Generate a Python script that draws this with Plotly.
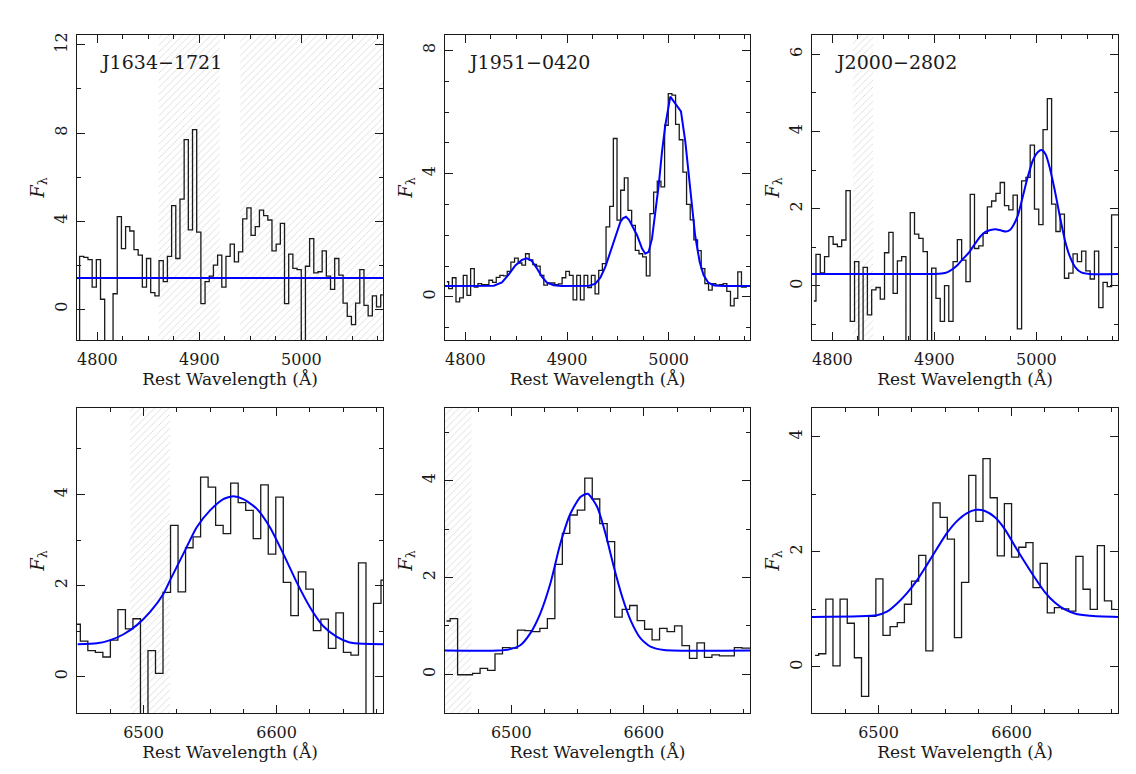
import plotly.graph_objects as go

# ---------------- Panel 1 : J1634-1721  ([OIII] region) ----------------
p1_wave = [4780.5, 4784.6, 4788.7, 4792.8, 4796.9, 4801.0, 4805.1, 4809.2, 4813.3, 4817.4,
           4821.5, 4825.6, 4829.7, 4833.8, 4837.9, 4842.0, 4846.1, 4850.2, 4854.3, 4858.4,
           4862.5, 4866.6, 4870.7, 4874.8, 4878.9, 4883.0, 4887.1, 4891.2, 4895.3, 4899.4,
           4903.5, 4907.6, 4911.7, 4915.8, 4919.9, 4924.0, 4928.1, 4932.2, 4936.3, 4940.4,
           4944.5, 4948.6, 4952.7, 4956.8, 4960.9, 4965.0, 4969.1, 4973.2, 4977.3, 4981.4,
           4985.5, 4989.6, 4993.7, 4997.8, 5001.9, 5006.0, 5010.1, 5014.2, 5018.3, 5022.4,
           5026.5, 5030.6, 5034.7, 5038.8, 5042.9, 5047.0, 5051.1, 5055.2, 5059.3, 5063.4,
           5067.5, 5071.6, 5075.7, 5079.8]
p1_flux = [-2.5, 2.4, 2.35, 2.25, 1.0, 2.25, 0.45, -2.5, -2.5, 0.7,
           4.2, 2.75, 3.75, 3.55, 2.7, 2.45, 1.0, 2.3, 0.75, 0.6,
           2.2, 1.25, 2.4, 4.7, 2.3, 5.0, 7.7, 3.6, 8.15, 3.5,
           0.25, 1.25, 1.5, 2.0, 2.45, 1.0, 2.4, 2.95, 2.15, 2.6,
           4.1, 4.6, 3.35, 3.75, 4.5, 4.25, 4.05, 2.65, 2.95, 3.9,
           0.25, 2.5, 1.85, 1.8, -2.5, 1.95, 3.2, 1.65, 1.7, 2.65,
           1.5, 0.9, 2.3, 1.55, 0.27, -0.33, -0.7, 0.27, 1.8, 0.17,
           -0.3, 0.6, 0.1, 0.65]
p1_fit_wave = [4780, 5080]
p1_fit_flux = [1.41, 1.41]
p1_masks = [(4860, 4920), (4940, 5080)]

# ---------------- Panel 2 : J1951-0420 ----------------
p2_wave = [4781.8, 4785.4, 4789.0, 4792.6, 4796.2, 4799.8, 4803.4, 4807.0, 4810.6, 4814.2,
           4817.8, 4821.4, 4825.0, 4828.6, 4832.2, 4835.8, 4839.4, 4843.0, 4846.6, 4850.2,
           4853.8, 4857.4, 4861.0, 4864.6, 4868.2, 4871.8, 4875.4, 4879.0, 4882.6, 4886.2,
           4889.8, 4893.4, 4897.0, 4900.6, 4904.2, 4907.8, 4911.4, 4915.0, 4918.6, 4922.2,
           4925.8, 4929.4, 4933.0, 4936.6, 4940.2, 4943.8, 4947.4, 4951.0, 4954.6, 4958.2,
           4961.8, 4965.4, 4969.0, 4972.6, 4976.2, 4979.8, 4983.4, 4987.0, 4990.6, 4994.2,
           4997.8, 5001.4, 5005.0, 5008.6, 5012.2, 5015.8, 5019.4, 5023.0, 5026.6, 5030.2,
           5033.8, 5037.4, 5041.0, 5044.6, 5048.2, 5051.8, 5055.4, 5059.0, 5062.6, 5066.2,
           5069.8, 5073.4, 5077.0]
p2_flux = [0.49, 0.27, 0.62, -0.16, -0.03, 0.7, 0.05, 0.92, 0.32, 0.43,
           0.4, 0.4, 0.54, 0.47, 0.63, 0.7, 0.68, 0.83, 1.13, 1.26,
           1.1, 1.03, 1.4, 1.2, 1.05, 1.0, 0.7, 0.38, 0.45, 0.45,
           0.4, 0.42, 0.62, 0.83, 0.7, -0.1, 0.7, -0.1, 0.7, 0.3,
           0.7, 0.1, 0.86, 1.08, 2.27, 2.94, 5.14, 2.49, 3.46, 3.86,
           2.81, 2.32, 1.51, 1.4, 1.3, 0.68, 2.7, 3.4, 3.76, 3.57,
           5.57, 6.6, 6.55, 5.6, 5.1, 4.05, 3.0, 2.5, 1.85, 1.5,
           0.92, 0.43, 0.22, 0.43, 0.38, 0.4, 0.43, 0.18, -0.29, -0.05,
           0.81, 0.32, 0.32]
p2_fit_wave = [4780, 4828, 4836, 4842.6, 4849.2, 4855.7, 4860.5, 4865, 4870.5, 4875.4,
               4880.3, 4887, 4895, 4922, 4927.9, 4932.8, 4937.7, 4942.6, 4947.5, 4952.5,
               4955, 4958, 4961, 4964, 4968.9, 4973.8, 4977, 4980.3, 4983.6, 4986.9,
               4990.2, 4993.4, 4996.7, 5001.6, 5012.1, 5016.4, 5019.7, 5023, 5026, 5030.5,
               5034.4, 5039, 5045, 5055, 5080]
p2_fit_flux = [0.35, 0.36, 0.47, 0.72, 1.02, 1.2, 1.25, 1.18, 0.92, 0.65,
               0.46, 0.38, 0.35, 0.36, 0.43, 0.62, 0.97, 1.46, 1.89, 2.43,
               2.55, 2.6, 2.5, 2.32, 2.0, 1.57, 1.4, 1.46, 1.89, 2.76,
               3.62, 4.7, 5.57, 6.5, 6.02, 5.03, 3.95, 2.86, 2.0, 1.13,
               0.7, 0.46, 0.37, 0.35, 0.35]
p2_masks = []

# ---------------- Panel 3 : J2000-2802 ----------------
p3_wave = [4781.8, 4786.0, 4790.2, 4794.4, 4798.6, 4802.8, 4807.0, 4811.2, 4815.4, 4819.6,
           4823.8, 4828.0, 4832.2, 4836.4, 4840.6, 4844.8, 4849.0, 4853.2, 4857.4, 4861.6,
           4865.8, 4870.0, 4874.2, 4878.4, 4882.6, 4886.8, 4891.0, 4895.2, 4899.4, 4903.6,
           4907.8, 4912.0, 4916.2, 4920.4, 4924.6, 4928.8, 4933.0, 4937.2, 4941.4, 4945.6,
           4949.8, 4954.0, 4958.2, 4962.4, 4966.6, 4970.8, 4975.0, 4979.2, 4983.4, 4987.6,
           4991.8, 4996.0, 5000.2, 5004.4, 5008.6, 5012.8, 5017.0, 5021.2, 5025.4, 5029.6,
           5033.8, 5038.0, 5042.2, 5046.4, 5050.6, 5054.8, 5059.0, 5063.2, 5067.4, 5071.6,
           5075.8, 5080.0]
p3_flux = [-0.39, 0.82, 0.34, 0.76, 1.28, 1.08, 1.02, 1.19, 2.47, -0.92,
           0.63, -2.0, 0.48, -0.75, -0.1, -0.04, -0.34, 0.86, 1.39, -0.19,
           0.65, 0.76, -2.0, 1.9, 1.34, 1.23, 0.89, -2.0, 0.46, -0.32,
           -0.92, 0.01, -0.92, 0.63, 1.2, 0.67, 0.11, 2.37, 0.97, 1.04,
           1.36, 2.05, 2.2, 2.4, 2.68, 2.08, 1.97, 2.35, -1.11, 2.72,
           2.81, 3.65, 1.99, 1.59, 4.05, 4.85, 2.12, 1.41, 1.86, 0.2,
           0.33, 0.83, 0.63, 0.9, 0.39, 0.18, 0.9, -0.56, 0.09, -0.02,
           1.84, 1.84]
p3_fit_wave = [4780, 4900, 4907, 4913, 4918, 4923, 4928, 4934, 4940, 4945,
               4950, 4955, 4960, 4965, 4970, 4974, 4978, 4982, 4986.5, 4991.5,
               4996.5, 5001.5, 5005, 5009, 5013, 5018, 5023, 5028, 5033, 5038,
               5044, 5052, 5080]
p3_fit_flux = [0.31, 0.31, 0.32, 0.36, 0.44, 0.55, 0.7, 0.87, 1.1, 1.28,
               1.4, 1.45, 1.47, 1.44, 1.41, 1.45, 1.6, 1.84, 2.3, 2.82,
               3.25, 3.47, 3.52, 3.41, 3.07, 2.48, 1.8, 1.18, 0.75, 0.49,
               0.35, 0.31, 0.31]
p3_masks = [(4820, 4840)]

# ---------------- Panel 4 : J1634-1721  (H-alpha) ----------------
p4_wave = [6449.7, 6455.3, 6461.0, 6466.6, 6472.3, 6477.9, 6483.6, 6489.2, 6494.9, 6500.5,
           6506.2, 6511.8, 6517.5, 6523.1, 6528.8, 6534.4, 6540.1, 6545.7, 6551.4, 6557.0,
           6562.7, 6568.3, 6574.0, 6579.6, 6585.3, 6590.9, 6596.6, 6602.2, 6607.9, 6613.5,
           6619.2, 6624.8, 6630.5, 6636.1, 6641.8, 6647.4, 6653.1, 6658.7, 6664.4, 6670.0,
           6675.7, 6681.3]
p4_flux = [1.15, 0.78, 0.57, 0.53, 0.43, 0.8, 1.47, 1.05, 1.27, -1.5,
           0.57, 0.07, 1.85, 3.32, 1.86, 2.83, 3.07, 4.38, 4.16, 3.32,
           3.14, 4.25, 3.82, 3.65, 3.03, 4.21, 2.69, 3.94, 2.07, 1.34,
           2.3, 1.92, 1.01, 1.26, 0.62, 1.4, 0.53, 0.47, 2.5, -1.5,
           1.61, 2.12]
p4_fit_wave = [6450.5, 6465, 6475, 6485, 6495, 6505, 6515, 6520, 6530, 6540,
               6550, 6560, 6567.5, 6575, 6585, 6595, 6605, 6615, 6625, 6635,
               6645, 6655, 6665, 6680]
p4_fit_flux = [0.71, 0.73, 0.8, 0.93, 1.13, 1.42, 1.82, 2.12, 2.7, 3.28,
               3.65, 3.9, 3.96, 3.9, 3.69, 3.28, 2.7, 2.08, 1.53, 1.11,
               0.88, 0.75, 0.72, 0.71]
p4_masks = [(6490, 6520)]

# ---------------- Panel 5 : J1951-0420  (H-alpha) ----------------
p5_wave = [6451.1, 6456.7, 6462.3, 6468.0, 6473.6, 6479.3, 6484.9, 6490.5, 6496.2, 6501.8,
           6507.5, 6513.1, 6518.7, 6524.4, 6530.0, 6535.7, 6541.3, 6546.9, 6552.6, 6558.2,
           6563.9, 6569.5, 6575.1, 6580.8, 6586.4, 6592.1, 6597.7, 6603.3, 6609.0, 6614.6,
           6620.3, 6625.9, 6631.5, 6637.2, 6642.8, 6648.5, 6654.1, 6659.7, 6665.4, 6671.0,
           6676.7, 6682.3]
p5_flux = [1.1, 1.15, -0.01, -0.01, 0.02, 0.12, 0.08, 0.42, 0.55, 0.54,
           0.91, 0.9, 0.88, 0.95, 1.15, 2.27, 2.91, 3.29, 3.39, 4.05,
           3.62, 3.11, 2.74, 1.18, 1.34, 1.42, 1.11, 0.93, 0.71, 0.95,
           0.88, 1.0, 0.59, 0.33, 0.65, 0.35, 0.4, 0.38, 0.38, 0.55,
           0.54, 0.54]
p5_fit_wave = [6449.6, 6490, 6499.2, 6506.8, 6514.4, 6521.9, 6529.5, 6537, 6544.6, 6552.1,
               6557.7, 6564.7, 6571, 6577.3, 6583.6, 6589.9, 6597.5, 6605, 6615.1, 6680.6]
p5_fit_flux = [0.49, 0.49, 0.52, 0.6, 0.85, 1.26, 1.88, 2.7, 3.32, 3.66,
               3.73, 3.46, 2.91, 2.22, 1.6, 1.12, 0.74, 0.57, 0.5, 0.49]
p5_masks = [(6450, 6470)]

# ---------------- Panel 6 : J2000-2802  (H-alpha) ----------------
p6_wave = [6452.3, 6457.7, 6463.1, 6468.4, 6473.8, 6479.2, 6484.5, 6489.9, 6495.3, 6500.7,
           6506.0, 6511.4, 6516.8, 6522.1, 6527.5, 6532.9, 6538.2, 6543.6, 6549.0, 6554.4,
           6559.7, 6565.1, 6570.5, 6575.8, 6581.2, 6586.6, 6591.9, 6597.3, 6602.7, 6608.1,
           6613.4, 6618.8, 6624.2, 6629.5, 6634.9, 6640.3, 6645.6, 6651.0, 6656.4, 6661.8,
           6667.1, 6672.5, 6677.9]
p6_flux = [0.2, 0.23, 1.18, 0.02, 1.18, 0.76, 0.16, -0.51, 0.88, 1.53,
           0.55, 0.7, 0.77, 1.09, 1.49, 1.94, 0.28, 2.85, 2.6, 2.22,
           0.51, 1.47, 3.33, 2.53, 3.62, 2.94, 1.93, 2.84, 1.91, 2.08,
           2.16, 1.38, 1.8, 0.94, 1.03, 1.01, 0.97, 1.92, 1.35, 1.0,
           2.11, 1.15, 1.0]
p6_fit_wave = [6450, 6485, 6498.75, 6506.25, 6513.75, 6521.25, 6528.75, 6536.25, 6543.75, 6551.25,
               6558.75, 6566.25, 6573.25, 6580, 6587.5, 6595, 6602.5, 6610, 6617.5, 6625,
               6632.5, 6640, 6647.5, 6658.75, 6680]
p6_fit_flux = [0.87, 0.88, 0.9, 0.96, 1.1, 1.28, 1.5, 1.77, 2.05, 2.32,
               2.53, 2.67, 2.73, 2.71, 2.6, 2.39, 2.1, 1.82, 1.55, 1.3,
               1.12, 1.0, 0.93, 0.89, 0.87]
p6_masks = []

# ---------------- axes / labels ----------------
object_names = ["J1634\u22121721", "J1951\u22120420", "J2000\u22122802"]
x_ranges = [[4780, 5080]] * 3 + [[6450, 6680]] * 3
y_ranges = [[-1.4, 12.45], [-1.4, 8.5], [-1.4, 6.5], [-0.8, 5.9], [-0.8, 5.5], [-0.8, 4.5]]
y_major = [4, 4, 2, 2, 2, 2]
y_minor = [2, 1, 1, 1, 1, 1]
x_title = "Rest Wavelength (\u00c5)"
y_title = "<i>F</i><sub>\u03bb</sub>"

panels = [
    (p1_wave, p1_flux, p1_fit_wave, p1_fit_flux, p1_masks),
    (p2_wave, p2_flux, p2_fit_wave, p2_fit_flux, p2_masks),
    (p3_wave, p3_flux, p3_fit_wave, p3_fit_flux, p3_masks),
    (p4_wave, p4_flux, p4_fit_wave, p4_fit_flux, p4_masks),
    (p5_wave, p5_flux, p5_fit_wave, p5_fit_flux, p5_masks),
    (p6_wave, p6_flux, p6_fit_wave, p6_fit_flux, p6_masks),
]

# the page body adds an 8px margin, so the figure is laid out 8px up/left
W, H = 1120, 758
OFF = 8
col_px = [(77, 383), (445, 750), (812, 1118)]
row_px = [(35, 340), (408, 713)]

FONT = "DejaVu Serif"
INK = "#1a1a1a"

fig = go.Figure()
layout_axes = {}

for i, (wv, fl, fw, ff, masks) in enumerate(panels):
    n = i + 1
    xs = "x" if n == 1 else f"x{n}"
    ys = "y" if n == 1 else f"y{n}"
    r, c = divmod(i, 3)
    x0, x1 = col_px[c]
    yt, yb = row_px[r]
    xdom = [(x0 - OFF) / W, (x1 - OFF) / W]
    ydom = [1 - (yb - OFF) / H, 1 - (yt - OFF) / H]
    ylo, yhi = y_ranges[i]

    for (a, b) in masks:
        fig.add_trace(go.Scatter(
            x=[a, b, b, a, a], y=[ylo, ylo, yhi, yhi, ylo],
            xaxis=xs, yaxis=ys, mode="lines", line=dict(width=0),
            fill="toself", fillcolor="rgba(0,0,0,0)",
            fillpattern=dict(shape="/", fgcolor="#b0b0b0", bgcolor="rgba(0,0,0,0)",
                             size=5, solidity=0.16),
            hoverinfo="skip", showlegend=False))

    fig.add_trace(go.Scatter(
        x=wv, y=fl, xaxis=xs, yaxis=ys, mode="lines",
        line=dict(shape="hvh", color=INK, width=1.3), showlegend=False))
    fig.add_trace(go.Scatter(
        x=fw, y=ff, xaxis=xs, yaxis=ys, mode="lines",
        line=dict(color="#0000ff", width=2, shape="linear" if n == 2 else "spline",
                  smoothing=0.6), showlegend=False))

    axis_common = dict(
        showline=True, linecolor=INK, linewidth=1.2, mirror="allticks",
        ticks="inside", ticklen=8, tickwidth=1, tickcolor=INK,
        showgrid=False, zeroline=False, automargin=False,
        tickfont=dict(family=FONT, size=16, color=INK),
    )
    layout_axes["xaxis" if n == 1 else f"xaxis{n}"] = dict(
        axis_common, domain=xdom, range=x_ranges[i], anchor=ys,
        tick0=0, dtick=100,
        minor=dict(dtick=25, ticks="inside", ticklen=4, tickcolor=INK, showgrid=False),
        ticklabelstandoff=5,
        title=dict(text=x_title, font=dict(family=FONT, size=17, color=INK), standoff=3),
    )
    layout_axes["yaxis" if n == 1 else f"yaxis{n}"] = dict(
        axis_common, domain=ydom, range=y_ranges[i], anchor=xs,
        tick0=0, dtick=y_major[i], tickangle=-90,
        minor=dict(dtick=y_minor[i], ticks="inside", ticklen=4, tickcolor=INK, showgrid=False),
        ticklabelstandoff=3,
        title=dict(text=y_title, font=dict(family=FONT, size=18, color=INK), standoff=2),
    )

annotations = []
for c in range(3):
    n = c + 1
    annotations.append(dict(
        text=object_names[c], xref=("x" if n == 1 else f"x{n}") + " domain",
        yref=("y" if n == 1 else f"y{n}") + " domain",
        x=0.07, y=0.912, xanchor="left", yanchor="middle", showarrow=False,
        font=dict(family=FONT, size=19, color=INK)))

fig.update_layout(
    width=W, height=H, margin=dict(l=0, r=0, t=0, b=0),
    paper_bgcolor="white", plot_bgcolor="white", showlegend=False,
    annotations=annotations, **layout_axes)

fig.write_html("out.html")
